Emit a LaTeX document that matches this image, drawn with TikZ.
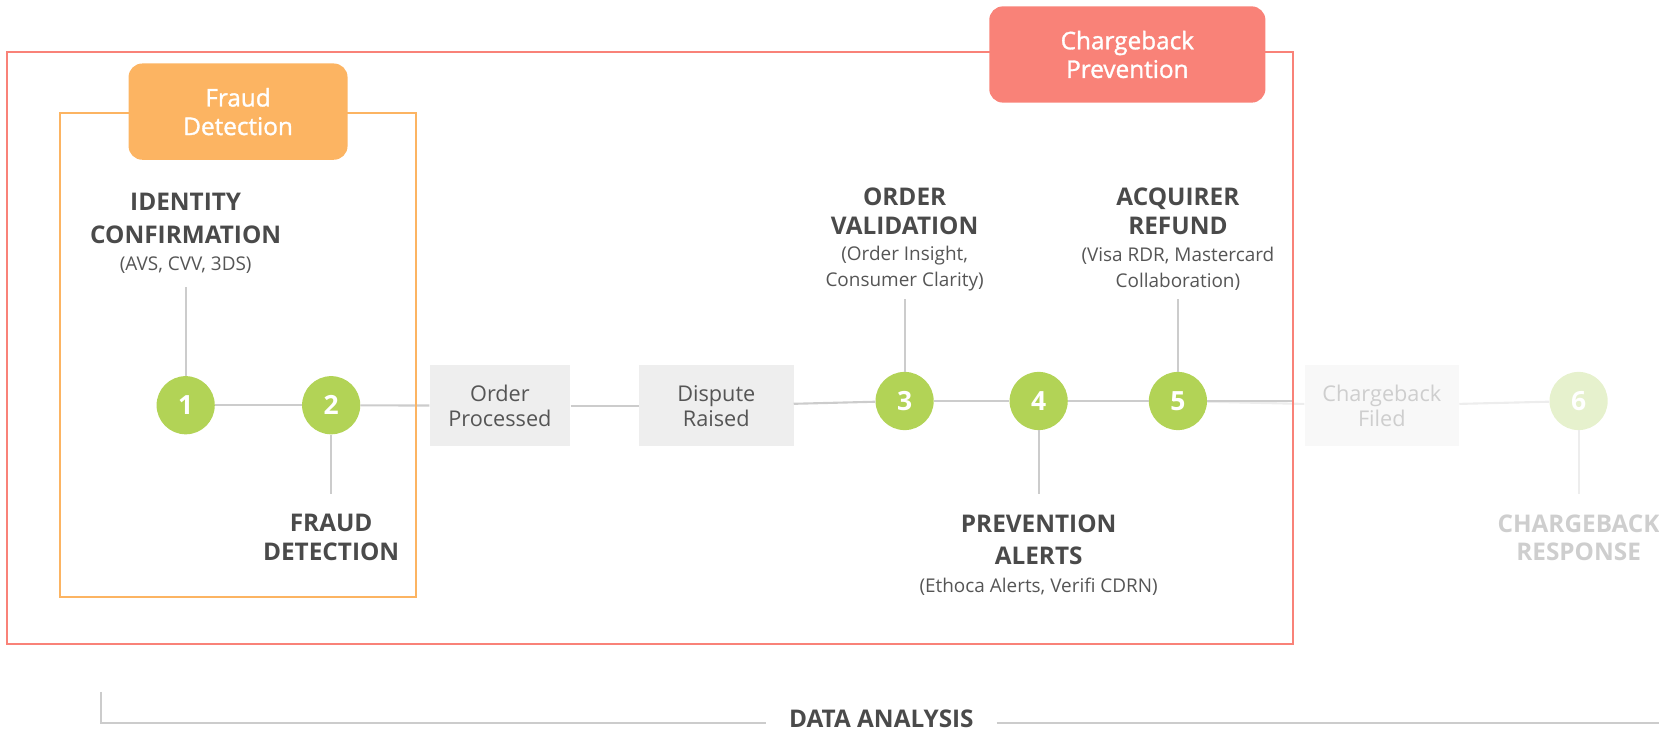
\documentclass[tikz,border=0pt]{standalone}
\usepackage{fontspec}
\setmainfont{Open Sans}
\newfontfamily\tagfont{Open Sans}[FakeBold=1.3]
\definecolor{salmon}{RGB}{249,130,120}
\definecolor{orangec}{RGB}{252,180,98}
\definecolor{greenc}{RGB}{178,211,86}
\definecolor{greenl}{RGB}{230,241,205}
\definecolor{darktxt}{RGB}{74,74,74}
\definecolor{subtxt}{RGB}{85,85,85}
\definecolor{boxg}{RGB}{238,238,238}
\definecolor{boxl}{RGB}{248,248,248}
\definecolor{fadetxt}{RGB}{206,206,206}
\definecolor{lineg}{RGB}{204,204,204}
\definecolor{linel}{RGB}{237,237,237}
\begin{document}
\begin{tikzpicture}[x=1pt,y=-1pt,
  conn/.style={draw=lineg, line width=2pt},
  connlight/.style={draw=linel, line width=2pt},
  numc/.style={circle, fill=greenc, minimum size=55pt, inner sep=0pt, text=white,
    font=\bfseries\fontsize{25}{25}\selectfont},
  stagebox/.style={rectangle, fill=boxg, text=subtxt, align=center, inner sep=0pt,
    minimum height=77pt, font=\fontsize{20.5}{23.6}\selectfont},
  ttl/.style={align=center, text=darktxt, inner sep=0pt},
  sub/.style={align=center, text=subtxt, inner sep=0pt, font=\fontsize{17.9}{24.2}\selectfont},
  tagbox/.style={rectangle, rounded corners=13pt, text=white, align=center, inner sep=0pt,
    font=\tagfont\fontsize{23}{27}\selectfont},
  frame/.style={line width=2pt}
]
\useasboundingbox (0,0) rectangle (1568,690);

% stage circles
\node[numc] (c1) at (175.5,383) {1};
\node[numc] (c2) at (313,383) {2};
\node[numc] (c3) at (855,379) {3};
\node[numc] (c4) at (981.7,379) {4};
\node[numc] (c5) at (1113.3,379) {5};
\node[numc, fill=greenl] (c6) at (1492,379) {6};

% event boxes
\node[stagebox, minimum width=133pt] (order) at (472.5,383.5) {Order\\Processed};
\node[stagebox, minimum width=146pt] (dispute) at (677,383.5) {Dispute\\Raised};
\node[stagebox, minimum width=146pt, fill=boxl, text=fadetxt] (filed) at (1306,383.5) {Chargeback\\Filed};

% labels
\node[ttl, font=\bfseries\fontsize{23}{31.5}\selectfont] (idt) at (175.5,206.3) {IDENTITY\\CONFIRMATION};
\node[sub] (ids) at (175.5,250.5) {(AVS, CVV, 3DS)};
\node[ttl, font=\bfseries\fontsize{23}{27}\selectfont] (fdt) at (313,508) {FRAUD\\DETECTION};
\node[ttl, font=\bfseries\fontsize{23}{27.4}\selectfont] (ovt) at (855,199.6) {ORDER\\VALIDATION};
\node[sub] (ovs) at (855,254) {(Order Insight,\\Consumer Clarity)};
\node[ttl, font=\bfseries\fontsize{23}{27.4}\selectfont] (art) at (1113.3,199.6) {ACQUIRER\\REFUND};
\node[sub] (ars) at (1113.3,254) {(Visa RDR, Mastercard\\Collaboration)};
\node[ttl, font=\bfseries\fontsize{23}{30.5}\selectfont] (pat) at (981.7,510) {PREVENTION\\ALERTS};
\node[sub] (pas) at (981.7,554.5) {(Ethoca Alerts, Verifi CDRN)};
\node[ttl, text=fadetxt, font=\bfseries\fontsize{23}{27}\selectfont] (crt) at (1492,508.5) {CHARGEBACK\\RESPONSE};

% free ends
\coordinate (c1top) at (175.5,271.5);
\coordinate (c2bot) at (313,467);
\coordinate (c3top) at (855,282.6);
\coordinate (c4bot) at (981.7,467);
\coordinate (c5top) at (1113.3,282.6);
\coordinate (c6bot) at (1492,467);
\coordinate (redge) at (1222,379);

% connectors
\draw[conn] (c1) -- (c2);
\draw[conn] (c2) -- (order);
\draw[conn] (order) -- (dispute);
\draw[conn] (dispute) -- (c3);
\draw[conn] (c3) -- (c4);
\draw[conn] (c4) -- (c5);
\draw[connlight] (c5) -- (filed);
\draw[conn] (c5) -- (redge);
\draw[connlight] (filed) -- (c6);
\draw[conn] (c1) -- (c1top);
\draw[conn] (c2) -- (c2bot);
\draw[conn] (c3) -- (c3top);
\draw[conn] (c4) -- (c4bot);
\draw[conn] (c5) -- (c5top);
\draw[connlight] (c6) -- (c6bot);

% frames
\draw[frame, draw=salmon] (6.5,49) rectangle (1222,608.5);
\draw[frame, draw=orangec] (57,107) rectangle (393,564);

% tags
\node[tagbox, fill=orangec, minimum width=207pt, minimum height=91pt] (fdtag) at (225,105.5) {Fraud\\Detection};
\node[tagbox, fill=salmon, minimum width=261pt, minimum height=91pt] (cbtag) at (1065.5,51.5) {Chargeback\\Prevention};

% data analysis
\node[ttl, inner xsep=21.5pt, font=\bfseries\fontsize{23}{27}\selectfont] (da) at (833,679.2) {DATA ANALYSIS};
\coordinate (datop) at (95.5,653.8);
\coordinate (dabase) at (95.5,683.7);
\coordinate (daend) at (1568,683.7);
\draw[conn] (datop) -- (dabase) -- (da.west |- dabase);
\draw[conn] (da.east |- dabase) -- (daend);
\end{tikzpicture}
\end{document}
